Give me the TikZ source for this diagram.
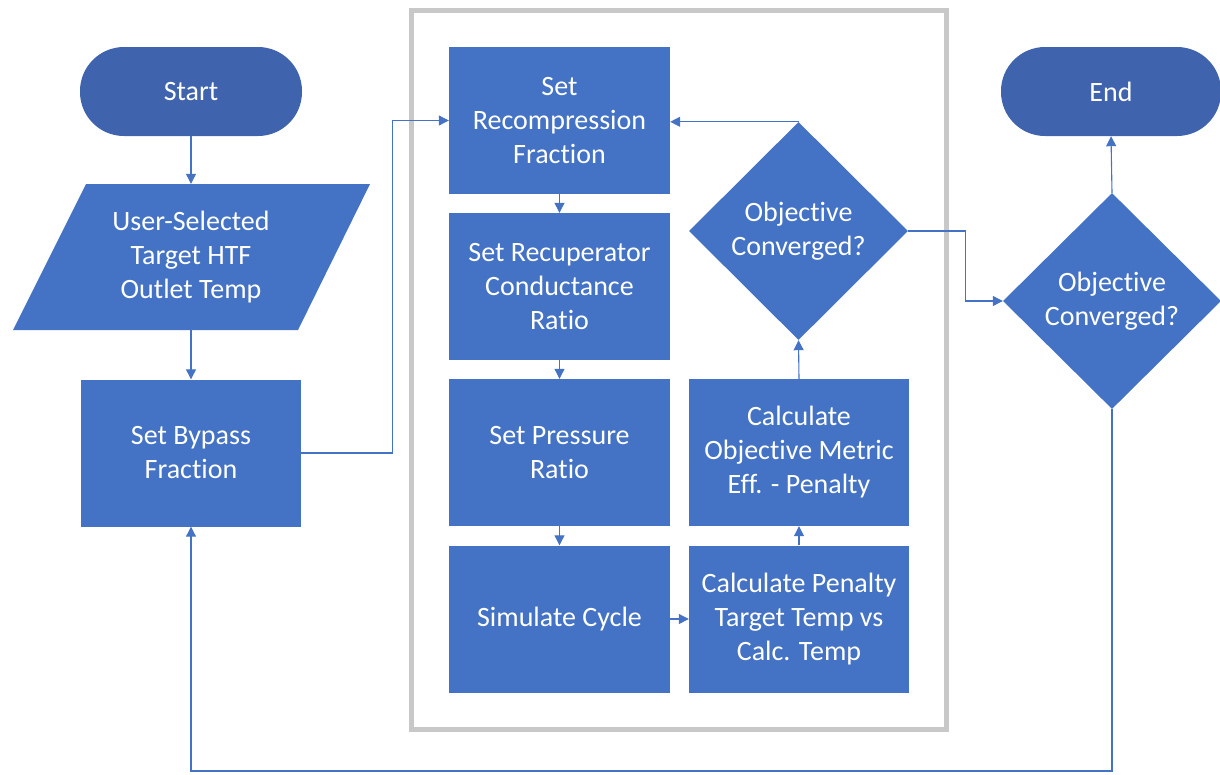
\documentclass[tikz,border=0pt]{standalone}
\usepackage{fontspec}
\setmainfont{Carlito}[Ligatures=NoCommon]
\usetikzlibrary{shapes.geometric,arrows.meta}
\definecolor{boxblue}{HTML}{4472C4}
\definecolor{termblue}{HTML}{3F64AD}
\definecolor{framegray}{HTML}{C8C8C8}
\begin{document}
\begin{tikzpicture}[x=1pt,y=-1pt,
  every node/.style={font=\fontsize{28}{34}\selectfont, text=white, align=center, inner sep=0pt},
  procbox/.style={rectangle, fill=boxblue, minimum width=221pt, minimum height=147pt},
  termbox/.style={rectangle, rounded corners=44pt, fill=termblue, minimum width=222pt, minimum height=89pt},
  decbox/.style={diamond, fill=boxblue, minimum width=219pt, minimum height=218pt, aspect=1},
  conn/.style={draw=boxblue, line width=1.1pt, -{Triangle[length=10pt,width=10pt]}},
]
\useasboundingbox (0,0) rectangle (1220,774);
% frame of the inner loop
\draw[framegray, line width=5pt] (411,10) rectangle (946,729);

% left column
\node[termbox] (start) at (191,91.5) {Start};
\fill[boxblue] (86,184) -- (370,184) -- (298,330) -- (13,330) -- cycle;
\node[minimum width=218pt, minimum height=146pt] (input) at (191,257) {User-Selected\\Target HTF\\Outlet Temp};
\node[procbox, minimum width=220pt] (bypass) at (191,453) {Set Bypass\\Fraction};

% inner column 1
\node[procbox] (recomp) at (559.5,120.5) {Set\\Recompression\\Fraction};
\node[procbox] (recup) at (559.5,286.5) {Set Recuperator\\Conductance\\Ratio};
\node[procbox] (press) at (559.5,452.5) {Set Pressure\\Ratio};
\node[procbox] (sim) at (559.5,619) {Simulate Cycle};

% inner column 2
\node[procbox, minimum width=220pt] (pen) at (799,619) {Calculate Penalty\\Target Temp vs\\Calc. Temp};
\node[procbox, minimum width=220pt] (obj) at (799,452.5) {Calculate\\Objective Metric\\Eff. - Penalty};
\node[decbox] (dia1) at (798.5,231) {Objective\\Converged?};

% right column
\node[decbox, minimum width=218pt, minimum height=216pt] (dia2) at (1112,301) {Objective\\Converged?};
\node[termbox, minimum width=220pt] (end) at (1111,91.5) {End};

\coordinate (low) at (0,771);

% connectors
\draw[conn] (start.south) -- (input.north);
\draw[conn] (input.south) -- (bypass.north);
\draw[conn] (bypass.east) -- ++(91,0) |- (recomp.west);
\draw[conn] (recomp.south) -- (recup.north);
\draw[conn] (recup.south) -- (press.north);
\draw[conn] (press.south) -- (sim.north);
\draw[conn] (sim.east) -- (pen.west);
\draw[conn] (pen.north) -- (obj.south);
\draw[conn] (obj.north) -- (dia1.south);
\draw[conn] (dia1.north) -- (dia1.north -| recomp.east);
\draw[conn] (dia1.east) -- ++(57,0) |- (dia2.west);
\draw[conn] (dia2.north) -- (end.south);
\draw[conn] (dia2.south) -- (dia2.south |- low) -| (bypass.south);
\end{tikzpicture}
\end{document}
